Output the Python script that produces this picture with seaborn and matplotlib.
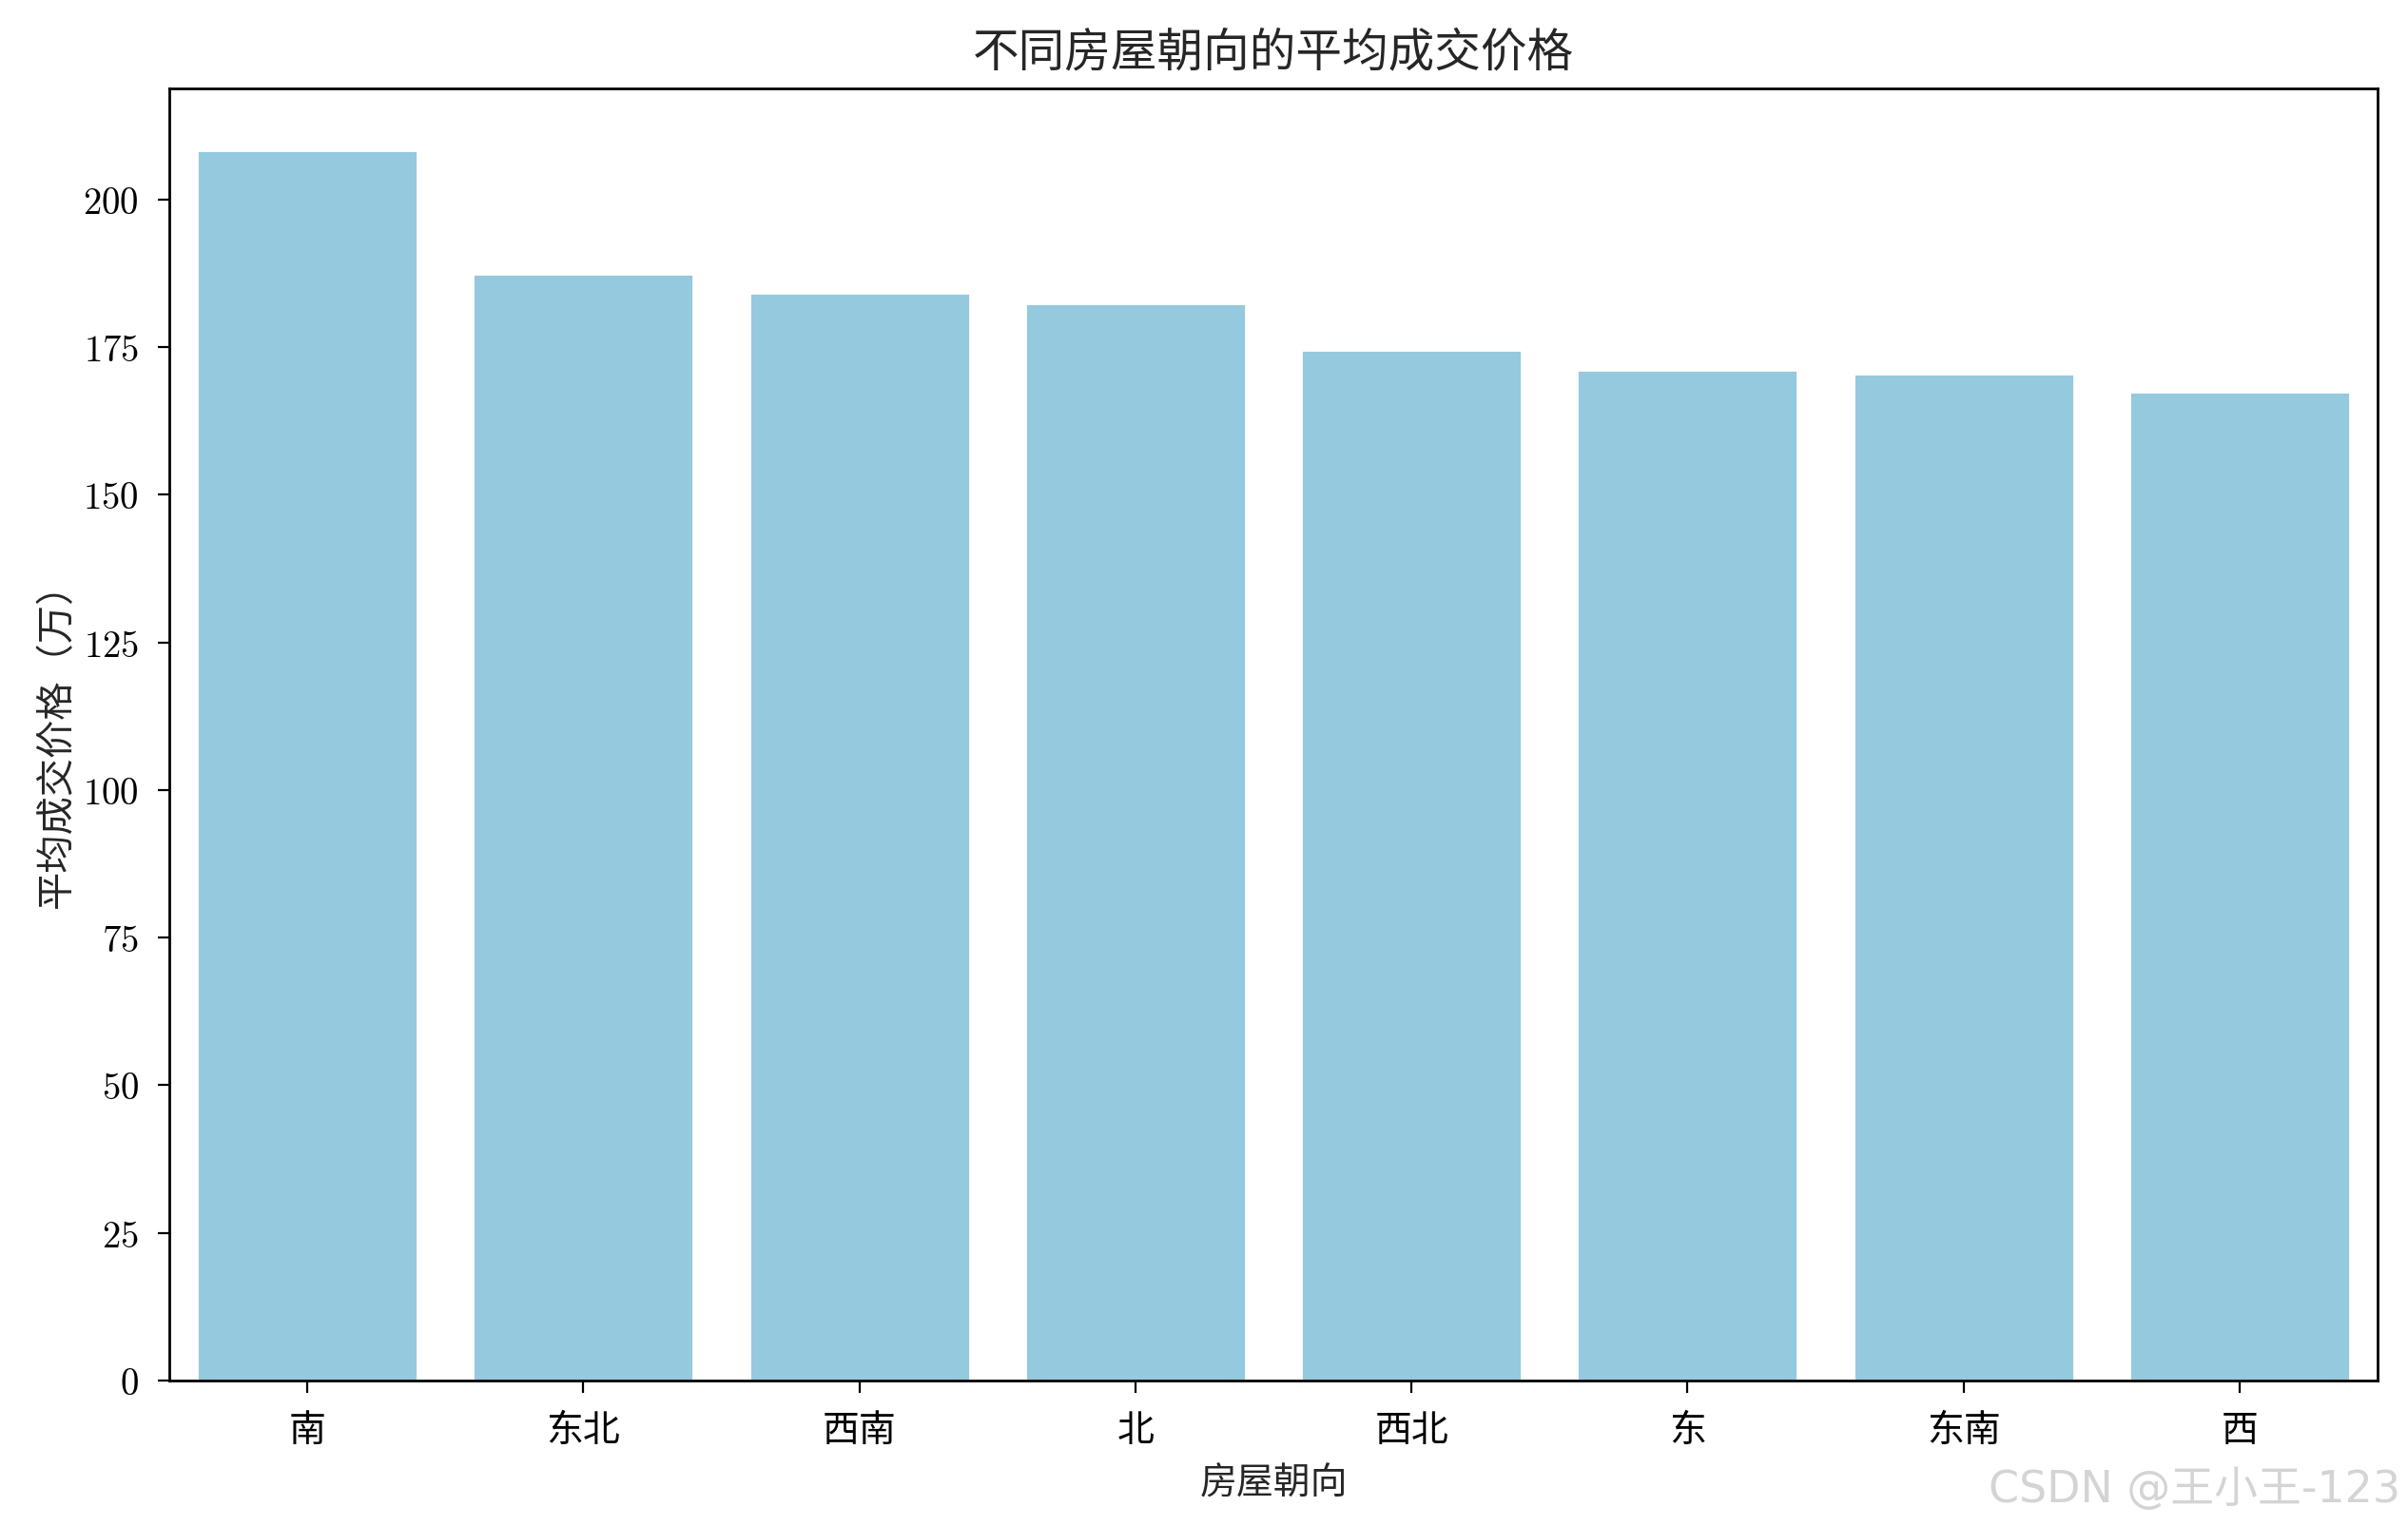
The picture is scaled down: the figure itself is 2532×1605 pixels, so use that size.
import matplotlib
matplotlib.use("Agg")
import matplotlib.pyplot as plt
import seaborn as sns
import pandas as pd

orientations = ["南", "东北", "西南", "北", "西北", "东", "东南", "西"]
avg_price = [208.4, 187.4, 184.2, 182.5, 174.6, 171.2, 170.5, 167.5]

sns.set_style("ticks")
plt.rcParams["font.family"] = ["cmr10", "Noto Sans CJK SC", "DejaVu Sans"]
plt.rcParams["axes.unicode_minus"] = False
plt.rcParams["axes.formatter.use_mathtext"] = True

df = pd.DataFrame({"朝向": orientations, "价格": avg_price})

fig = plt.figure(figsize=(2532 / 200, 1606 / 200), dpi=200)
ax = fig.add_axes([178 / 2532, (1606 - 1453) / 1606, (2500 - 178) / 2532, (1453 - 94) / 1606])
sns.barplot(data=df, x="朝向", y="价格", color="skyblue", order=orientations, ax=ax, errorbar=None)

for s in ax.spines.values():
    s.set_visible(True)
    s.set_color("black")
    s.set_linewidth(1.0)

ax.set_title("不同房屋朝向的平均成交价格", fontsize=17.5, pad=9)
ax.set_xlabel("房屋朝向", fontsize=14, labelpad=7)
ax.set_ylabel("平均成交价格（万）", fontsize=14.5, labelpad=3)
ax.tick_params(axis="y", labelsize=14, colors="black", length=4.5, pad=7)
ax.tick_params(axis="x", labelsize=14, colors="black", length=4.5, pad=8)

fig.text(0.997, 0.010, "CSDN @王小王-123", ha="right", va="bottom", fontsize=16.5,
         color="#d4d4d4", family=["DejaVu Sans", "Noto Sans CJK SC"])

fig.savefig("out.png", dpi=200)
